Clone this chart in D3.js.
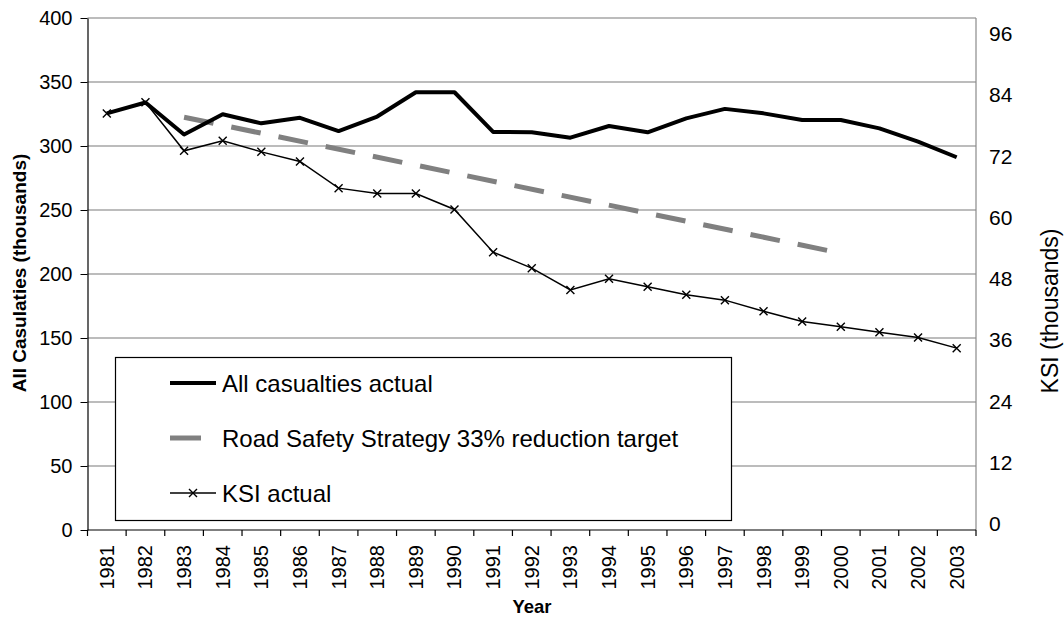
<!DOCTYPE html>
<html>
<head>
<meta charset="utf-8">
<script src="https://cdn.jsdelivr.net/npm/d3@7"></script>
<style>
  html, body { margin: 0; padding: 0; background: #fff; }
  svg { display: block; font-family: "Liberation Sans", Arial, sans-serif; }
</style>
</head>
<body>
<svg id="chart" width="1064" height="617"></svg>
<script>
const years = ["1981","1982","1983","1984","1985","1986","1987","1988","1989","1990","1991","1992","1993","1994","1995","1996","1997","1998","1999","2000","2001","2002","2003"];
const allCasualties = [325.5,334,309,324.8,317.7,322,311.7,323,342,342,311,310.7,306.5,315.6,310.7,321.6,329,325.5,320.3,320.3,313.8,303.4,291.2];
const ksiActual = [78.1,80.2,71.1,73,70.9,69.1,64.1,63.1,63.1,60.1,52.1,49.1,45,47.1,45.6,44.1,43.1,41,39.1,38.1,37.1,36.1,34.1];
const targetYears = ["1983","2000"];
const targetKsi = [77.4,51.9];
const leftTicks = [0,50,100,150,200,250,300,350,400];
const rightTicks = [0,12,24,36,48,60,72,84,96];
const seriesNames = ["All casualties actual","Road Safety Strategy 33% reduction target","KSI actual"];

const svg = d3.select("#chart");
const L = 87.5, R = 976, T = 18, B = 530;

const x = d3.scaleBand().domain(years).range([L, R]).padding(0);
const bw = x.bandwidth();
const cx = yr => x(yr) + bw / 2;
const yL = d3.scaleLinear().domain([0, 400]).range([B, T]);
const yR = d3.scaleLinear().domain([0, 96]).range([B, T]);
const yRLabel = d3.scaleLinear().domain([0, 96]).range([524, 34]);

// gridlines
svg.append("g").selectAll("line").data(leftTicks.filter(d => d > 0)).join("line")
  .attr("x1", L).attr("x2", R)
  .attr("y1", d => yL(d)).attr("y2", d => yL(d))
  .attr("stroke", "#7a7a7a").attr("stroke-width", 1.2);

// right axis line
svg.append("line").attr("x1", R).attr("x2", R).attr("y1", T).attr("y2", B)
  .attr("stroke", "#8a8a8a").attr("stroke-width", 1.2);

// left axis
const gL = svg.append("g").attr("transform", `translate(${L},0)`)
  .call(d3.axisLeft(yL).tickValues(leftTicks).tickSize(7).tickPadding(8).tickSizeOuter(0));
gL.select(".domain").attr("stroke", "#000").attr("stroke-width", 1.2);
gL.selectAll(".tick line").attr("stroke", "#000");
gL.selectAll("text").attr("font-size", 20).attr("font-family", "Liberation Sans, Arial, sans-serif").attr("fill", "#000");

// right axis labels
const gR = svg.append("g").attr("transform", `translate(${R},0)`)
  .call(d3.axisRight(yRLabel).tickValues(rightTicks).tickSize(0).tickPadding(13));
gR.select(".domain").remove();
gR.selectAll("text").attr("font-size", 21).attr("font-family", "Liberation Sans, Arial, sans-serif").attr("fill", "#000");

// bottom axis
svg.append("line").attr("x1", L).attr("x2", R).attr("y1", B).attr("y2", B)
  .attr("stroke", "#000").attr("stroke-width", 1.2);
const boundaries = years.map(y => x(y)).concat([R]);
svg.append("g").selectAll("line").data(boundaries).join("line")
  .attr("x1", d => d).attr("x2", d => d).attr("y1", B).attr("y2", B + 6)
  .attr("stroke", "#000").attr("stroke-width", 1.2);
svg.append("g").selectAll("text").data(years).join("text")
  .attr("transform", d => `translate(${cx(d)},545) rotate(-90)`)
  .attr("text-anchor", "end").attr("dy", "0.35em")
  .attr("font-size", 20).text(d => d);

// target dashed line
const tData = targetYears.map((y, i) => ({ year: y, v: targetKsi[i] }));
svg.append("path").datum(tData)
  .attr("d", d3.line().x(d => cx(d.year)).y(d => yR(d.v)))
  .attr("fill", "none").attr("stroke", "#808080").attr("stroke-width", 5)
  .attr("stroke-dasharray", "30,18.2");

// all casualties
const aData = years.map((y, i) => ({ year: y, v: allCasualties[i] }));
svg.append("path").datum(aData)
  .attr("d", d3.line().x(d => cx(d.year)).y(d => yL(d.v)))
  .attr("fill", "none").attr("stroke", "#000").attr("stroke-width", 4)
  .attr("stroke-linejoin", "round");

// KSI
const kData = years.map((y, i) => ({ year: y, v: ksiActual[i] }));
svg.append("path").datum(kData)
  .attr("d", d3.line().x(d => cx(d.year)).y(d => yR(d.v)))
  .attr("fill", "none").attr("stroke", "#000").attr("stroke-width", 1.5);
const cross = (g, px, py) => {
  const s = 4;
  g.append("path").attr("d", `M${px - s},${py - s}L${px + s},${py + s}M${px - s},${py + s}L${px + s},${py - s}`)
    .attr("stroke", "#000").attr("stroke-width", 1.4).attr("fill", "none");
};
const gm = svg.append("g");
kData.forEach(d => cross(gm, cx(d.year), yR(d.v)));

// legend
const lg = svg.append("g");
lg.append("rect").attr("x", 115.5).attr("y", 357.5).attr("width", 616).attr("height", 163)
  .attr("fill", "#fff").attr("stroke", "#000").attr("stroke-width", 1.2);
const rowY = [383, 438, 493];
seriesNames.forEach((name, i) => {
  const y0 = rowY[i];
  if (i === 0) {
    lg.append("line").attr("x1", 170).attr("x2", 216).attr("y1", y0).attr("y2", y0)
      .attr("stroke", "#000").attr("stroke-width", 4);
  } else if (i === 1) {
    lg.append("line").attr("x1", 170).attr("x2", 201).attr("y1", y0).attr("y2", y0)
      .attr("stroke", "#808080").attr("stroke-width", 5);
  } else {
    lg.append("line").attr("x1", 170).attr("x2", 216).attr("y1", y0).attr("y2", y0)
      .attr("stroke", "#000").attr("stroke-width", 1.5);
    cross(lg, 193, y0);
  }
  lg.append("text").attr("x", 222).attr("y", y0 + 9).attr("font-size", 24).text(name);
});

// axis titles
svg.append("text").attr("transform", "translate(26,273) rotate(-90)")
  .attr("text-anchor", "middle").attr("font-size", 19).attr("font-weight", "bold")
  .text("All Casulaties (thousands)");
svg.append("text").attr("transform", "translate(1058,311) rotate(-90)")
  .attr("text-anchor", "middle").attr("font-size", 23)
  .text("KSI (thousands)");
svg.append("text").attr("x", 532).attr("y", 613)
  .attr("text-anchor", "middle").attr("font-size", 18.5).attr("font-weight", "bold")
  .text("Year");
</script>
</body>
</html>
